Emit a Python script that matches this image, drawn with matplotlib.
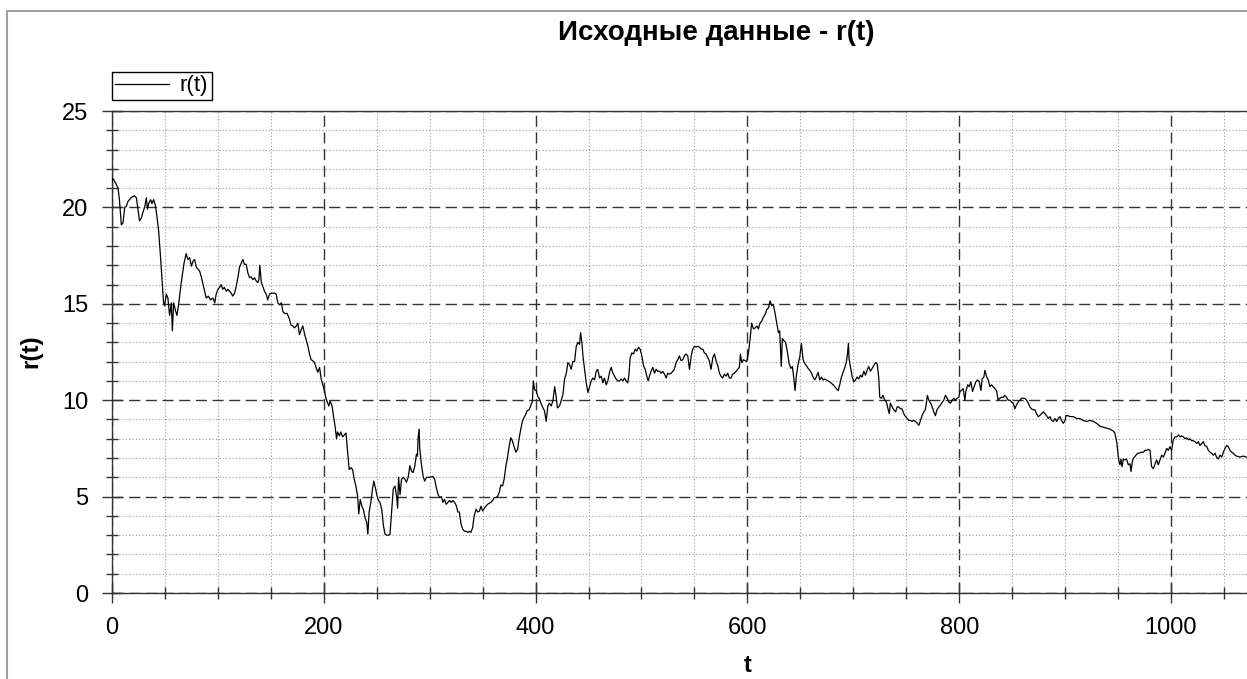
import matplotlib
matplotlib.use("Agg")
import matplotlib.pyplot as plt
from matplotlib.lines import Line2D
from matplotlib.ticker import MultipleLocator

plt.rcParams['font.family'] = ['Liberation Sans', 'DejaVu Sans']

# ---- data ----
t_seg1 = [0, 1, 4, 5.7, 7, 8.8, 10.4, 12, 13.5, 15, 18, 21, 23, 24.5, 26, 27.7, 29, 31, 32.4, 33.5,
          34.6, 36.5, 37.7, 39.3, 41, 42.5, 44, 45.6, 47.2, 48.7, 49.7, 51.3, 52.8, 54.4, 56, 57, 58.2,
          59.7, 61.3, 63, 65.4, 68, 70, 71.7, 73.3, 75, 76.4, 78, 79.6, 82.7, 84.3, 86, 87.4, 89, 91, 93,
          95.3, 97, 98.4, 100, 101.6, 103, 104.7, 106, 108, 109.4, 111, 112.6, 114, 115.7, 117.3, 119,
          120.4, 122, 123.6, 125, 126.7, 128.3, 130, 131.4, 133, 134.6, 136, 137.7, 138.7, 139.6, 141,
          142.4, 144, 145.6, 147, 148.7, 150.3, 153.5, 155, 156.6, 158, 160, 161.3, 163, 165.4, 167.6,
          169, 170.8, 172.3, 174, 175.5, 177, 178.6, 180.2, 182, 183.3, 185, 186.5, 188, 189.6, 191.2,
          192.8, 194.3, 196, 197.5, 199, 200.6, 202]
r_seg1 = [21.3, 21.5, 21.2, 21.0, 20.4, 19.1, 19.2, 20.0, 20.05, 20.3, 20.5, 20.6, 20.5, 19.9, 19.3, 19.45,
          19.7, 20.05, 20.5, 19.9, 20.2, 20.4, 20.2, 20.4, 20.1, 19.5, 18.8, 17.6, 16.3, 15.05, 14.9, 15.5,
          15.3, 14.4, 15.05, 13.6, 15.05, 14.7, 14.4, 15.0, 16.1, 17.1, 17.6, 17.3, 17.4, 16.95, 17.2, 17.3,
          16.9, 16.7, 16.4, 16.0, 15.65, 15.3, 15.4, 15.2, 15.3, 15.05, 15.5, 15.75, 15.85, 16.0, 15.75,
          15.85, 15.65, 15.75, 15.65, 15.55, 15.4, 15.55, 15.9, 16.4, 16.9, 17.1, 17.3, 17.05, 17.05, 16.6,
          16.35, 16.4, 16.25, 16.35, 16.2, 16.1, 16.25, 17.0, 16.1, 15.9, 15.65, 15.5, 15.2, 15.5, 15.55,
          15.55, 15.5, 15.05, 14.95, 15.05, 14.6, 14.5, 14.5, 14.2, 13.9, 13.85, 13.75, 13.85, 14.0, 13.4,
          13.65, 13.85, 13.4, 13.15, 12.8, 12.4, 12.1, 12.05, 11.95, 11.7, 11.45, 11.7, 11.1, 10.8, 10.5,
          10.1]

t_seg2 = [203, 204.7, 206, 207.8, 209.4, 211, 212, 213, 214.7, 216, 217.8, 219.4, 221, 222.5, 224, 225.6,
          227.2, 228.7, 230.3, 232, 233, 234.4, 236, 237.5, 239, 240.6, 241.6, 242.8, 244.4, 246, 247.2,
          248.8, 250, 251.6, 253, 254.7, 256.3, 257.8, 259.4, 261, 262.5, 264, 265.6, 267.2, 268.8, 269.7,
          270.6, 272, 273.4, 275, 276.6, 278, 279.7, 281.3, 283, 284.4, 286, 287.5, 288.4, 289, 290, 290.6,
          292, 293.8, 295.3, 297, 300, 303, 304.7, 306.3, 308, 309.4, 311, 312.5, 314, 315.6, 317.2, 318.8,
          320.3, 322, 323.4, 325, 326.6, 328, 329.7, 331.3, 333, 334.4, 336, 337.5, 339, 340.6, 342, 343.8,
          345.3, 347, 348.4, 350, 351.6, 353, 354.7, 356, 357.8, 359.4, 361, 362.5, 364, 365.6, 367.2,
          368.8, 370.3, 372, 373.4, 375, 376.6, 378, 379.7, 381.3, 383, 384.4, 386, 387.5, 389, 390.6, 392,
          393.8, 395.3, 397, 397.8, 399, 400.6, 402, 403.8, 405.3, 407, 408.4, 410, 411.6, 413, 414.7,
          416.3, 418, 419.4, 420.6]
r_seg2 = [9.95, 9.7, 9.95, 9.7, 9.1, 8.5, 8.0, 8.35, 8.15, 8.35, 8.1, 8.2, 8.3, 7.3, 6.4, 6.5, 6.4, 5.9,
          5.55, 5.0, 4.1, 4.85, 4.5, 4.3, 3.9, 3.65, 3.05, 4.2, 4.7, 5.4, 5.8, 5.45, 5.1, 4.8, 4.7, 4.35,
          3.5, 3.05, 3.0, 3.0, 3.05, 4.2, 5.4, 5.55, 5.0, 4.4, 6.0, 5.1, 5.9, 6.0, 5.9, 5.75, 6.0, 6.6, 6.3,
          6.25, 6.6, 7.2, 7.1, 8.0, 8.5, 7.5, 6.75, 6.05, 5.8, 6.0, 6.0, 6.05, 5.9, 5.45, 5.1, 4.95, 5.0,
          4.7, 4.85, 4.6, 4.7, 4.8, 4.7, 4.8, 4.7, 4.55, 4.2, 4.2, 3.55, 3.3, 3.2, 3.2, 3.15, 3.2, 3.15,
          3.4, 4.0, 4.35, 4.2, 4.25, 4.5, 4.25, 4.4, 4.5, 4.6, 4.65, 4.7, 4.8, 4.95, 4.95, 5.0, 5.2, 5.6,
          5.55, 5.9, 6.6, 7.0, 7.6, 8.05, 7.9, 7.6, 7.3, 7.45, 8.0, 8.5, 8.9, 9.1, 9.25, 9.45, 9.5, 9.7,
          9.95, 11.0, 10.55, 10.5, 10.2, 10.05, 9.8, 9.6, 9.45, 8.9, 9.7, 9.85, 9.7, 9.95, 10.7, 10.2, 9.6]

t_seg3 = [422.6, 424, 425.8, 427.4, 429, 430.5, 432, 433.6, 435.2, 436.8, 438.4, 440, 441.5, 442.5, 443.7,
          444.7, 446.2, 447.8, 449.4, 451, 452.5, 454, 455.7, 457.2, 458.8, 460.4, 462, 463.5, 465, 466.7,
          468.2, 470, 471.4, 473, 474.5, 476, 477.7, 479.2, 480.8, 482.4, 484, 485.5, 487, 488, 489.3,
          490.9, 492.5, 494, 495.6, 497.2, 498.7, 500.3, 501.9, 503.5, 505, 506.3, 507.5, 509, 510.7,
          512.3, 513.8, 515.4, 517, 518.6, 520, 521.7, 523.3, 524.8, 526.4, 528, 529.6, 531, 532.7, 534.3,
          535.8, 537.4, 539, 540.6, 542, 543.7, 545.3, 547, 548.4, 550, 551.6, 553, 554.7, 556.3, 557.9,
          559.4, 561, 562.6, 564, 565.7, 567.3, 568.9, 570.4, 572, 573.6, 575, 576.7, 578.3, 579.9, 581.4,
          583, 584.6, 586, 587.7, 589.3, 591, 592.4, 593.4, 594.7, 596.2, 597.8, 599.4, 601, 602.5, 604,
          605.7, 607.3, 609, 610.4, 612, 613.6, 615, 616.7, 618.3, 620, 621.4, 623, 624.6, 626, 627.7,
          629.3]
r_seg3 = [9.7, 9.95, 10.3, 11.1, 11.4, 11.95, 11.85, 11.6, 12.0, 12.0, 12.8, 13.0, 12.9, 13.5, 13.0, 12.3,
          11.6, 10.9, 10.4, 10.7, 11.0, 11.15, 11.05, 11.5, 11.6, 11.15, 11.25, 10.9, 11.15, 10.8, 11.0,
          11.5, 11.7, 11.4, 11.25, 11.1, 11.0, 11.0, 11.1, 11.0, 11.15, 11.0, 10.9, 11.25, 12.2, 12.45,
          12.4, 12.65, 12.55, 12.75, 12.65, 12.3, 11.8, 11.6, 11.25, 11.0, 11.25, 11.5, 11.7, 11.4, 11.6,
          11.5, 11.5, 11.4, 11.5, 11.35, 11.15, 11.4, 11.35, 11.4, 11.5, 11.6, 11.95, 12.1, 12.3, 12.05,
          12.1, 12.3, 12.4, 12.3, 11.6, 12.3, 12.65, 12.8, 12.75, 12.8, 12.75, 12.65, 12.65, 12.45, 12.4,
          12.2, 12.05, 11.6, 12.2, 12.4, 12.05, 11.8, 11.4, 11.25, 11.15, 11.35, 11.25, 11.4, 11.15, 11.15,
          11.35, 11.4, 11.5, 11.6, 11.7, 12.4, 11.95, 12.1, 12.05, 12.0, 12.45, 13.15, 14.0, 13.7, 13.75,
          13.85, 13.7, 14.0, 14.1, 14.3, 14.45, 14.7, 14.8, 15.15, 14.9, 14.95, 14.55, 14.0, 13.5]

t_seg4 = [630.5, 632, 633, 634.3, 636, 637.5, 639.4, 641, 642.5, 644, 645, 646.3, 648, 649.5, 651, 652.6,
          654.2, 655.7, 657.3, 659, 660.5, 662, 663.6, 665, 666.8, 668.3, 670, 671.5, 673, 674.6, 677.8,
          681, 684, 685.7, 687.2, 688.8, 690.4, 692, 693.5, 694.5, 695.4, 696, 697.3, 699, 700.5, 702,
          703.6, 705.2, 706.8, 708.3, 710, 711.5, 713, 714.6, 716.2, 717.8, 719.4, 721, 722.5, 724, 725,
          726.6, 728, 729.8, 731.3, 733, 734, 735, 736.7, 738.3, 740, 741.4, 743, 744.6, 746, 747.7, 749.3,
          751, 752.4, 754, 755.6, 757, 758.7, 760.3, 762, 763.4, 765, 766.6, 768, 769, 770, 771.3, 773,
          774.5, 776, 777.6, 779, 780.8, 782.4, 784, 785.5, 787, 788.7, 790.2, 791.8, 793.4, 795, 796.5,
          798, 799.7, 800.6, 802, 803.8, 805.4, 806.3, 808, 809.5, 811, 812.6, 814.2, 815.7, 817.3, 819,
          820.5, 821.7, 823.3, 824.3, 826, 827.4, 829, 830.6, 832, 833.7, 835.3, 836.8, 838.4, 840, 841.6,
          843, 844.7, 846.3, 848, 849.4, 851, 852.6, 854, 855.7, 857.3, 858.9, 860.5, 862, 863.6, 865.2,
          866.8, 868.3, 870, 871.5, 873, 874.6, 876, 877.8, 879.4, 881, 882.5, 884, 885.7, 887.2, 888.8,
          890.4, 892, 893.5, 895, 896.7, 898.3, 900, 900.8, 902.4, 904.6, 907.7, 910.9, 914, 917, 920.3,
          923.5, 926.6, 929.8, 933, 936, 939.2, 942.4, 945.5, 947, 948.7, 949.6, 950.6, 951.8, 952.8,
          953.7, 955, 956.5, 958, 959.7, 961.3, 962.2, 963.8, 965.4, 967, 968.5, 970, 971.7, 973.9, 975.4,
          977, 978.6, 980.2, 981.7, 983.3, 985, 986.5, 988, 989.6, 991.2, 992.8, 994.3, 996, 997.5, 999,
          1000.6, 1002, 1003.8, 1005.4, 1007, 1008.5, 1010, 1011.7, 1013.2, 1014.8, 1016.4, 1018, 1019.5,
          1021, 1022.7, 1024.3, 1025.8, 1027.4, 1029, 1030.5, 1032, 1033.7, 1035.3, 1037, 1038.4, 1040,
          1041.6, 1043, 1044.7, 1046.3, 1048, 1049.4, 1051, 1052.6, 1054, 1055.7, 1057.3, 1059, 1060.4,
          1062, 1065, 1068.3, 1071.4, 1074]
r_seg4 = [13.6, 11.75, 13.2, 13.1, 13.0, 12.6, 11.9, 11.65, 11.75, 11.05, 10.5, 11.3, 11.9, 12.25, 12.95,
          12.1, 11.9, 11.8, 11.65, 11.55, 11.4, 11.2, 11.05, 11.2, 11.45, 11.05, 11.2, 11.05, 11.1, 11.05,
          10.95, 10.8, 10.6, 10.5, 10.8, 11.2, 11.45, 11.7, 12.0, 12.4, 12.95, 12.15, 11.75, 11.2, 10.95,
          11.05, 11.2, 11.1, 11.3, 11.2, 11.5, 11.3, 11.55, 11.75, 11.5, 11.65, 11.8, 11.95, 11.9, 11.2,
          10.15, 10.1, 10.25, 10.0, 9.9, 9.5, 9.3, 9.85, 9.65, 9.5, 9.4, 9.65, 9.65, 9.55, 9.55, 9.3, 9.15,
          9.05, 8.95, 8.95, 8.9, 8.95, 8.9, 8.8, 8.7, 8.95, 9.2, 9.4, 9.5, 9.85, 10.25, 10.0, 9.85, 9.65,
          9.4, 9.2, 9.5, 9.65, 9.75, 9.9, 10.0, 10.25, 10.1, 9.9, 9.85, 10.0, 10.1, 10.0, 10.1, 10.15,
          10.45, 10.5, 10.6, 10.0, 10.45, 10.8, 10.7, 10.95, 10.45, 10.7, 10.95, 11.05, 10.95, 10.5, 11.1,
          11.2, 11.55, 11.2, 11.05, 10.7, 10.8, 10.7, 10.6, 10.5, 10.0, 10.1, 10.15, 10.15, 10.25, 10.15,
          10.0, 10.0, 9.9, 9.85, 9.55, 9.75, 9.9, 10.0, 10.1, 10.1, 10.1, 10.0, 9.85, 9.65, 9.55, 9.5, 9.5,
          9.3, 9.15, 9.2, 9.3, 9.4, 9.3, 9.2, 9.05, 9.15, 8.95, 8.9, 9.05, 8.9, 9.05, 9.15, 8.95, 8.8, 8.95,
          9.2, 9.2, 9.15, 9.15, 9.05, 9.05, 8.95, 8.9, 8.95, 8.9, 8.8, 8.65, 8.6, 8.55, 8.5, 8.4, 8.3, 7.85,
          7.4, 6.9, 6.65, 6.95, 6.55, 6.95, 6.9, 6.95, 6.65, 6.7, 6.3, 6.9, 7.05, 7.15, 7.25, 7.25, 7.3,
          7.3, 7.4, 7.4, 7.45, 7.4, 6.55, 6.45, 6.7, 6.9, 6.65, 6.9, 7.15, 7.05, 7.25, 7.5, 7.4, 7.6, 7.4,
          7.9, 8.1, 8.1, 8.2, 8.1, 8.15, 8.1, 8.0, 8.05, 7.95, 8.0, 7.9, 7.9, 7.85, 7.75, 7.85, 7.65, 7.75,
          7.85, 7.65, 7.6, 7.4, 7.3, 7.25, 7.15, 7.25, 7.05, 6.95, 7.15, 7.05, 7.3, 7.5, 7.65, 7.6, 7.4,
          7.3, 7.25, 7.15, 7.1, 7.05, 7.1, 7.05, 7.05]

t_values = t_seg1 + t_seg2 + t_seg3 + t_seg4
r_values = r_seg1 + r_seg2 + r_seg3 + r_seg4

y_ticks = [0, 5, 10, 15, 20, 25]
x_ticks = [0, 200, 400, 600, 800, 1000]

title_text = "Исходные данные - r(t)"
x_label = "t"
y_label = "r(t)"
legend_label = "r(t)"

# ---- figure ----
W, H = 1247, 679
fig = plt.figure(figsize=(W / 100, H / 100), dpi=100)
fig.patch.set_facecolor('white')

left_px, right_px, top_px, bottom_px = 112, 1322, 111, 593
ax = fig.add_axes([left_px / W, (H - bottom_px) / H,
                   (right_px - left_px) / W, (bottom_px - top_px) / H])
ax.set_xlim(0, 1142.6)
ax.set_ylim(0, 25)

ax.plot(t_values, r_values, color='black', lw=0.9, label=legend_label, zorder=3)

ax.set_xticks(x_ticks)
ax.set_yticks(y_ticks)
ax.xaxis.set_minor_locator(MultipleLocator(50))
ax.yaxis.set_minor_locator(MultipleLocator(1))

ax.set_axisbelow(True)
ax.grid(which='major', linestyle=(0, (8, 4)), color='#333333', lw=1.0)
ax.grid(which='minor', linestyle=(0, (1, 2)), color='#9a9a9a', lw=0.8)

ax.tick_params(which='major', direction='inout', length=14, width=1.0, color='#333333',
               labelsize=17, labelcolor='black', pad=10)
ax.tick_params(which='minor', direction='inout', length=8, width=1.0, color='#333333')

for side in ['left', 'bottom', 'top', 'right']:
    ax.spines[side].set_color('#333333')
    ax.spines[side].set_linewidth(1.0)

# texts
fig.text(716 / W, 1 - 33 / H, title_text, ha='center', va='center',
         fontsize=20, fontweight='bold')
fig.text(748 / W, 1 - 666 / H, x_label, ha='center', va='center',
         fontsize=17, fontweight='bold')
fig.text(31 / W, 1 - 351 / H, y_label, ha='center', va='center',
         fontsize=17.5, fontweight='bold', rotation=90)

leg = ax.legend(loc='upper left', bbox_to_anchor=(112 / W, 1 - 72 / H),
                bbox_transform=fig.transFigure, fontsize=16, frameon=True,
                fancybox=False, edgecolor='black', framealpha=1,
                handlelength=2.4, handletextpad=0.5, borderpad=0.15,
                borderaxespad=0)
leg.get_frame().set_linewidth(1.0)

# outer frame of the window
fig.add_artist(Line2D([7 / W, 7 / W, 1.0], [0.0, 1 - 11 / H, 1 - 11 / H],
                      transform=fig.transFigure, color='#a0a0a0', lw=1.5))

fig.savefig('out.png', dpi=100)
